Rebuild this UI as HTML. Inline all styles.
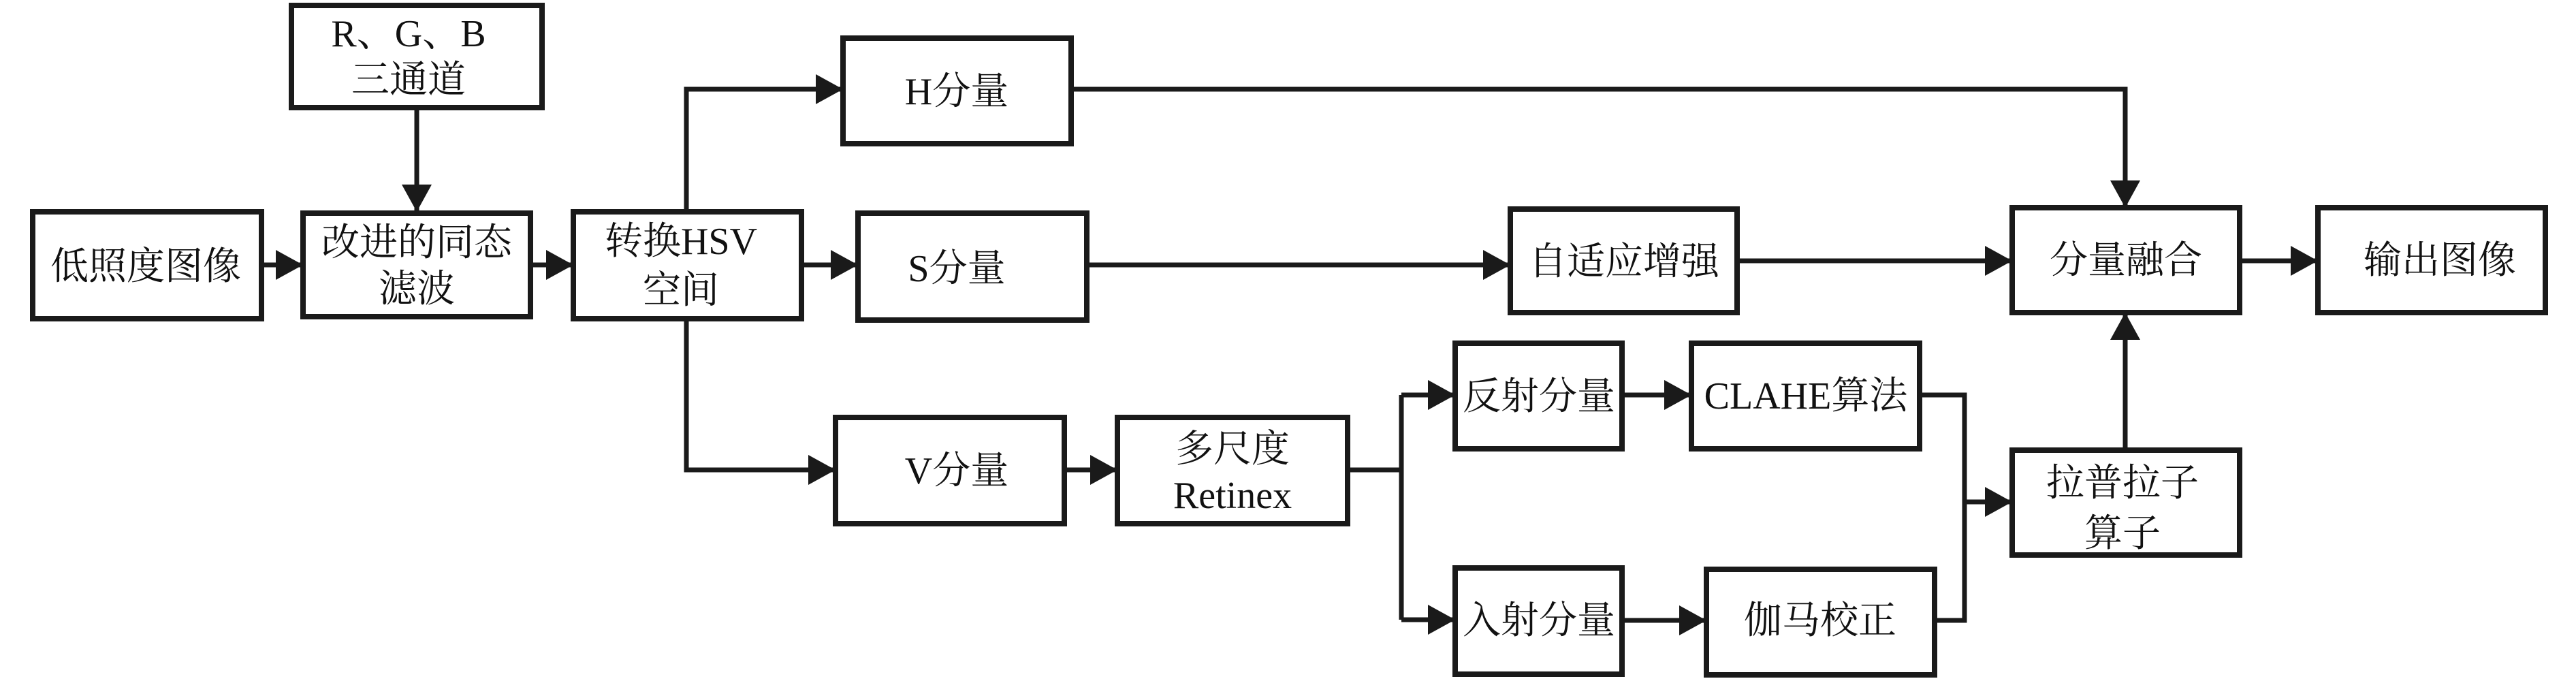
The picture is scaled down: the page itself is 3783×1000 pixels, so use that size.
<!DOCTYPE html>
<html><head><meta charset="utf-8"><style>
html,body{margin:0;padding:0;background:#fff;}
svg{display:block;}
text{font-family:"Liberation Serif","Noto Serif CJK SC",serif;font-size:56px;fill:#111;text-anchor:middle;dominant-baseline:central;}
</style></head><body>
<svg width="3783" height="1000" viewBox="0 0 3783 1000" xmlns="http://www.w3.org/2000/svg">
<defs>
<marker id="a" markerWidth="40" markerHeight="44" refX="40" refY="22" orient="auto" markerUnits="userSpaceOnUse">
<path d="M0,0 L40,22 L0,44 Z" fill="#1a1a1a"/>
</marker>
</defs>
<g fill="#fff" stroke="#1a1a1a" stroke-width="8">
<rect x="428" y="8" width="368" height="150"/>
<rect x="48" y="311" width="336" height="157"/>
<rect x="445" y="313" width="334" height="152"/>
<rect x="842" y="311" width="335" height="157"/>
<rect x="1238" y="56" width="335" height="155"/>
<rect x="1260" y="313" width="336" height="157"/>
<rect x="1227" y="613" width="336" height="156"/>
<rect x="1641" y="613" width="338" height="156"/>
<rect x="2137" y="504" width="245" height="155"/>
<rect x="2137" y="834" width="245" height="156"/>
<rect x="2484" y="504" width="335" height="155"/>
<rect x="2506" y="836" width="335" height="155"/>
<rect x="2218" y="307" width="333" height="152"/>
<rect x="2955" y="305" width="334" height="154"/>
<rect x="3404" y="305" width="334" height="154"/>
<rect x="2955" y="661" width="334" height="154"/>
</g>
<g fill="none" stroke="#1a1a1a" stroke-width="7">
<path d="M612,158 L612,311" marker-end="url(#a)"/>
<path d="M384,389 L445,389" marker-end="url(#a)"/>
<path d="M779,389 L842,389" marker-end="url(#a)"/>
<path d="M1008,311 L1008,131 L1238,131" marker-end="url(#a)"/>
<path d="M1177,389 L1260,389" marker-end="url(#a)"/>
<path d="M1008,468 L1008,690 L1227,690" marker-end="url(#a)"/>
<path d="M1563,690 L1641,690" marker-end="url(#a)"/>
<path d="M1979,690 L2058,690"/>
<path d="M2058,580 L2058,910"/>
<path d="M2058,580 L2137,580" marker-end="url(#a)"/>
<path d="M2058,910 L2137,910" marker-end="url(#a)"/>
<path d="M2382,580 L2484,580" marker-end="url(#a)"/>
<path d="M2382,911 L2506,911" marker-end="url(#a)"/>
<path d="M1596,389 L2218,389" marker-end="url(#a)"/>
<path d="M2551,383 L2955,383" marker-end="url(#a)"/>
<path d="M1573,131 L3121,131 L3121,305" marker-end="url(#a)"/>
<path d="M3289,383 L3404,383" marker-end="url(#a)"/>
<path d="M2819,580 L2885,580 L2885,911 L2841,911"/>
<path d="M2885,737 L2955,737" marker-end="url(#a)"/>
<path d="M3121,661 L3121,459" marker-end="url(#a)"/>
</g>
<text x="600" y="50">R、G、B</text>
<text x="600" y="118">三通道</text>
<text x="214" y="392">低照度图像</text>
<text x="612" y="357">改进的同态</text>
<text x="612" y="425">滤波</text>
<text x="1000" y="355">转换HSV</text>
<text x="1000" y="427">空间</text>
<text x="1405" y="135">H分量</text>
<text x="1405" y="395">S分量</text>
<text x="1405" y="692">V分量</text>
<text x="1810" y="660">多尺度</text>
<text x="1810" y="728">Retinex</text>
<text x="2260" y="583">反射分量</text>
<text x="2260" y="912">入射分量</text>
<text x="2652" y="582">CLAHE算法</text>
<text x="2673" y="912">伽马校正</text>
<text x="2385" y="385">自适应增强</text>
<text x="3122" y="383">分量融合</text>
<text x="3583" y="383">输出图像</text>
<text x="3117" y="710">拉普拉子</text>
<text x="3117" y="784">算子</text>
</svg>
</body></html>
